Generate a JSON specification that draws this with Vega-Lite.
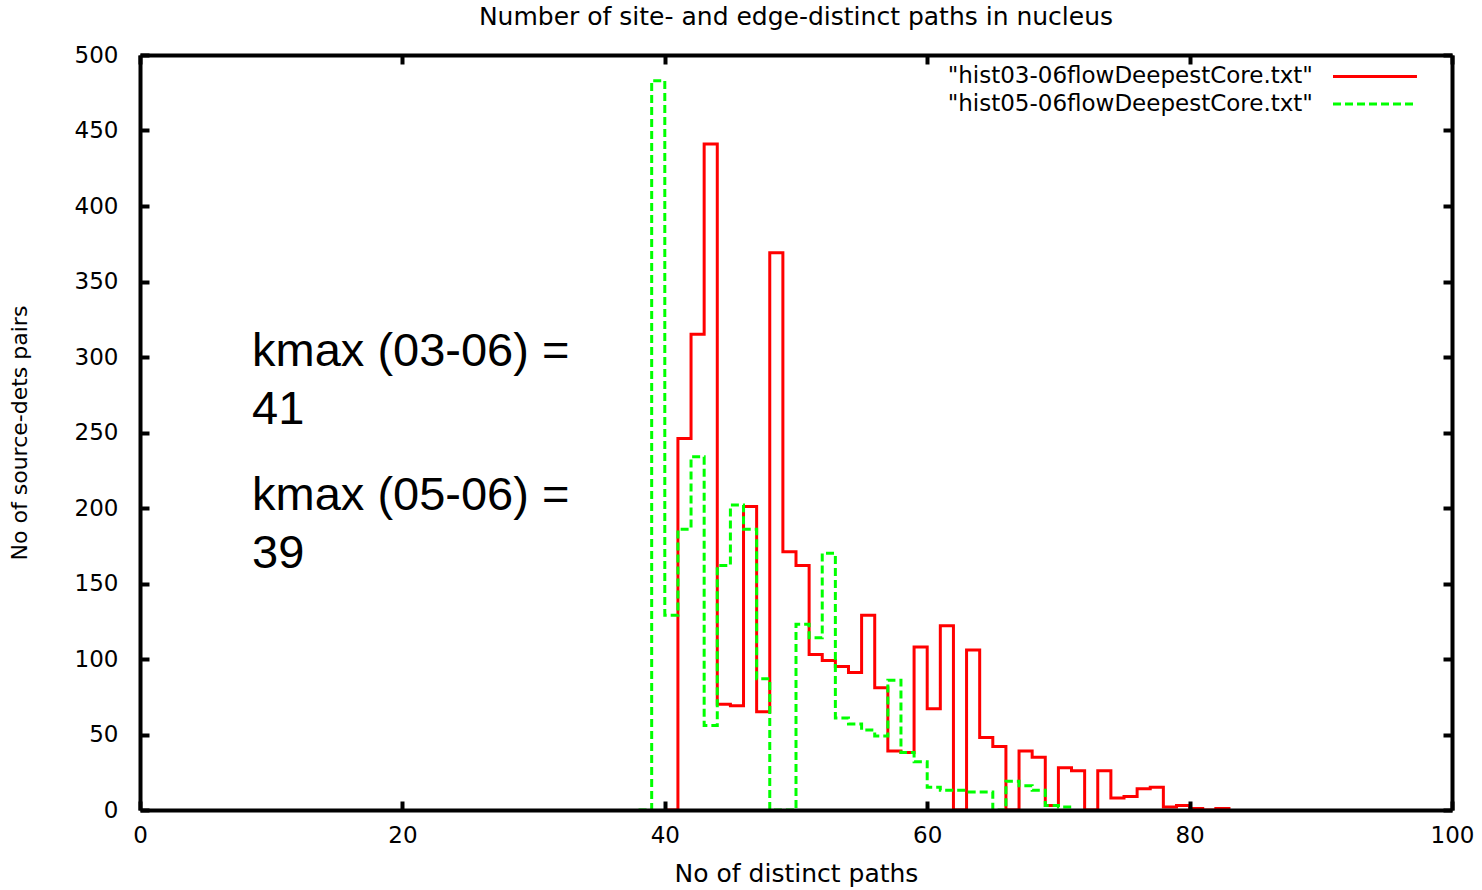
{
  "$schema": "https://vega.github.io/schema/vega-lite/v6.json",
  "width": 1312,
  "height": 755,
  "autosize": {"type": "none"},
  "padding": {"left": 140, "top": 55, "right": 30, "bottom": 80},
  "background": "white",
  "config": {"view": {"stroke": null}},
  "title": {"text": "Number of site- and edge-distinct paths in nucleus", "font": "DejaVu Sans", "fontSize": 25, "fontWeight": "normal", "color": "black", "anchor": "middle", "baseline": "bottom", "offset": -11},
  "datasets": {
    "hist": [
      {"k": 40, "count": 0, "series": "03-06"},
      {"k": 41, "count": 246, "series": "03-06"},
      {"k": 42, "count": 315, "series": "03-06"},
      {"k": 43, "count": 441, "series": "03-06"},
      {"k": 44, "count": 70, "series": "03-06"},
      {"k": 45, "count": 69, "series": "03-06"},
      {"k": 46, "count": 201, "series": "03-06"},
      {"k": 47, "count": 65, "series": "03-06"},
      {"k": 48, "count": 369, "series": "03-06"},
      {"k": 49, "count": 171, "series": "03-06"},
      {"k": 50, "count": 162, "series": "03-06"},
      {"k": 51, "count": 103, "series": "03-06"},
      {"k": 52, "count": 99, "series": "03-06"},
      {"k": 53, "count": 95, "series": "03-06"},
      {"k": 54, "count": 91, "series": "03-06"},
      {"k": 55, "count": 129, "series": "03-06"},
      {"k": 56, "count": 81, "series": "03-06"},
      {"k": 57, "count": 39, "series": "03-06"},
      {"k": 58, "count": 38, "series": "03-06"},
      {"k": 59, "count": 108, "series": "03-06"},
      {"k": 60, "count": 67, "series": "03-06"},
      {"k": 61, "count": 122, "series": "03-06"},
      {"k": 62, "count": 0, "series": "03-06"},
      {"k": 63, "count": 106, "series": "03-06"},
      {"k": 64, "count": 48, "series": "03-06"},
      {"k": 65, "count": 42, "series": "03-06"},
      {"k": 66, "count": 0, "series": "03-06"},
      {"k": 67, "count": 39, "series": "03-06"},
      {"k": 68, "count": 35, "series": "03-06"},
      {"k": 69, "count": 3, "series": "03-06"},
      {"k": 70, "count": 28, "series": "03-06"},
      {"k": 71, "count": 26, "series": "03-06"},
      {"k": 72, "count": 0, "series": "03-06"},
      {"k": 73, "count": 26, "series": "03-06"},
      {"k": 74, "count": 8, "series": "03-06"},
      {"k": 75, "count": 9, "series": "03-06"},
      {"k": 76, "count": 14, "series": "03-06"},
      {"k": 77, "count": 15, "series": "03-06"},
      {"k": 78, "count": 2, "series": "03-06"},
      {"k": 79, "count": 3, "series": "03-06"},
      {"k": 80, "count": 1, "series": "03-06"},
      {"k": 81, "count": 0, "series": "03-06"},
      {"k": 82, "count": 1, "series": "03-06"},
      {"k": 83, "count": 0, "series": "03-06"},
      {"k": 38, "count": 0, "series": "05-06"},
      {"k": 39, "count": 483, "series": "05-06"},
      {"k": 40, "count": 129, "series": "05-06"},
      {"k": 41, "count": 186, "series": "05-06"},
      {"k": 42, "count": 234, "series": "05-06"},
      {"k": 43, "count": 56, "series": "05-06"},
      {"k": 44, "count": 162, "series": "05-06"},
      {"k": 45, "count": 202, "series": "05-06"},
      {"k": 46, "count": 186, "series": "05-06"},
      {"k": 47, "count": 87, "series": "05-06"},
      {"k": 48, "count": 0, "series": "05-06"},
      {"k": 49, "count": 0, "series": "05-06"},
      {"k": 50, "count": 123, "series": "05-06"},
      {"k": 51, "count": 114, "series": "05-06"},
      {"k": 52, "count": 170, "series": "05-06"},
      {"k": 53, "count": 61, "series": "05-06"},
      {"k": 54, "count": 57, "series": "05-06"},
      {"k": 55, "count": 53, "series": "05-06"},
      {"k": 56, "count": 49, "series": "05-06"},
      {"k": 57, "count": 86, "series": "05-06"},
      {"k": 58, "count": 38, "series": "05-06"},
      {"k": 59, "count": 32, "series": "05-06"},
      {"k": 60, "count": 15, "series": "05-06"},
      {"k": 61, "count": 13, "series": "05-06"},
      {"k": 62, "count": 13, "series": "05-06"},
      {"k": 63, "count": 12, "series": "05-06"},
      {"k": 64, "count": 12, "series": "05-06"},
      {"k": 65, "count": 0, "series": "05-06"},
      {"k": 66, "count": 19, "series": "05-06"},
      {"k": 67, "count": 16, "series": "05-06"},
      {"k": 68, "count": 13, "series": "05-06"},
      {"k": 69, "count": 3, "series": "05-06"},
      {"k": 70, "count": 2, "series": "05-06"},
      {"k": 71, "count": 0, "series": "05-06"}
    ],
    "one": [{}]
  },
  "resolve": {"axis": {"x": "independent", "y": "independent"}},
  "layer": [
    {
      "data": {"name": "hist"},
      "transform": [{"filter": "datum.series === '03-06'"}],
      "mark": {"type": "line", "interpolate": "step-after", "color": "#ff0000", "strokeWidth": 3},
      "encoding": {
        "x": {"field": "k", "type": "quantitative", "scale": {"domain": [0, 100], "nice": false, "zero": true},
          "axis": {"orient": "bottom", "values": [0, 20, 40, 60, 80, 100], "tickSize": -9, "tickWidth": 4, "tickColor": "black", "domainWidth": 4, "domainColor": "black", "grid": false, "zindex": 1,
            "labelFont": "DejaVu Sans", "labelFontSize": 23, "labelColor": "black", "labelPadding": 23, "labelFlush": false,
            "title": "No of distinct paths", "titleFont": "DejaVu Sans", "titleFontSize": 25, "titleFontWeight": "normal", "titleColor": "black", "titlePadding": 14}},
        "y": {"field": "count", "type": "quantitative", "scale": {"domain": [0, 500], "nice": false},
          "axis": {"orient": "left", "values": [0, 50, 100, 150, 200, 250, 300, 350, 400, 450, 500], "tickSize": -9, "tickWidth": 4, "tickColor": "black", "domainWidth": 4, "domainColor": "black", "grid": false, "zindex": 1,
            "labelFont": "DejaVu Sans", "labelFontSize": 23, "labelColor": "black", "labelPadding": 31, "labelFlush": false,
            "title": "No of source-dets pairs", "titleFont": "DejaVu Sans", "titleFontSize": 22, "titleFontWeight": "normal", "titleColor": "black", "titlePadding": 43}}
      }
    },
    {
      "data": {"name": "hist"},
      "transform": [{"filter": "datum.series === '05-06'"}],
      "mark": {"type": "line", "interpolate": "step-after", "color": "#00ff00", "strokeWidth": 3, "strokeDash": [8, 4]},
      "encoding": {
        "x": {"field": "k", "type": "quantitative",
          "axis": {"orient": "top", "values": [0, 20, 40, 60, 80, 100], "labels": false, "title": null, "tickSize": -9, "tickWidth": 4, "tickColor": "black", "domainWidth": 4, "domainColor": "black", "grid": false, "zindex": 1}},
        "y": {"field": "count", "type": "quantitative",
          "axis": {"orient": "right", "values": [0, 50, 100, 150, 200, 250, 300, 350, 400, 450, 500], "labels": false, "title": null, "tickSize": -9, "tickWidth": 4, "tickColor": "black", "domainWidth": 4, "domainColor": "black", "grid": false, "zindex": 1}}
      }
    },
    {
      "data": {"name": "one"},
      "mark": {"type": "text", "font": "Liberation Sans", "fontSize": 47, "align": "left", "baseline": "middle", "lineHeight": 58, "color": "black"},
      "encoding": {
        "x": {"datum": 8.54, "type": "quantitative", "axis": null},
        "y": {"datum": 303.3, "type": "quantitative", "axis": null},
        "text": {"value": ["kmax (03-06) =", "41"]}
      }
    },
    {
      "data": {"name": "one"},
      "mark": {"type": "text", "font": "Liberation Sans", "fontSize": 47, "align": "left", "baseline": "middle", "lineHeight": 58, "color": "black"},
      "encoding": {
        "x": {"datum": 8.54, "type": "quantitative", "axis": null},
        "y": {"datum": 207.9, "type": "quantitative", "axis": null},
        "text": {"value": ["kmax (05-06) =", "39"]}
      }
    },
    {
      "data": {"name": "one"},
      "mark": {"type": "text", "font": "DejaVu Sans", "fontSize": 23, "align": "right", "baseline": "middle", "color": "black"},
      "encoding": {
        "x": {"datum": 89.4, "type": "quantitative", "axis": null},
        "y": {"datum": 485.8, "type": "quantitative", "axis": null},
        "text": {"value": "\"hist03-06flowDeepestCore.txt\""}
      }
    },
    {
      "data": {"name": "one"},
      "mark": {"type": "text", "font": "DejaVu Sans", "fontSize": 23, "align": "right", "baseline": "middle", "color": "black"},
      "encoding": {
        "x": {"datum": 89.4, "type": "quantitative", "axis": null},
        "y": {"datum": 467.5, "type": "quantitative", "axis": null},
        "text": {"value": "\"hist05-06flowDeepestCore.txt\""}
      }
    },
    {
      "data": {"name": "one"},
      "mark": {"type": "rule", "color": "#ff0000", "strokeWidth": 3},
      "encoding": {
        "x": {"datum": 90.93, "type": "quantitative", "axis": null},
        "x2": {"datum": 97.33},
        "y": {"datum": 485.8, "type": "quantitative", "axis": null}
      }
    },
    {
      "data": {"name": "one"},
      "mark": {"type": "rule", "color": "#00ff00", "strokeWidth": 3, "strokeDash": [8, 4]},
      "encoding": {
        "x": {"datum": 90.93, "type": "quantitative", "axis": null},
        "x2": {"datum": 97.33},
        "y": {"datum": 467.5, "type": "quantitative", "axis": null}
      }
    }
  ]
}
